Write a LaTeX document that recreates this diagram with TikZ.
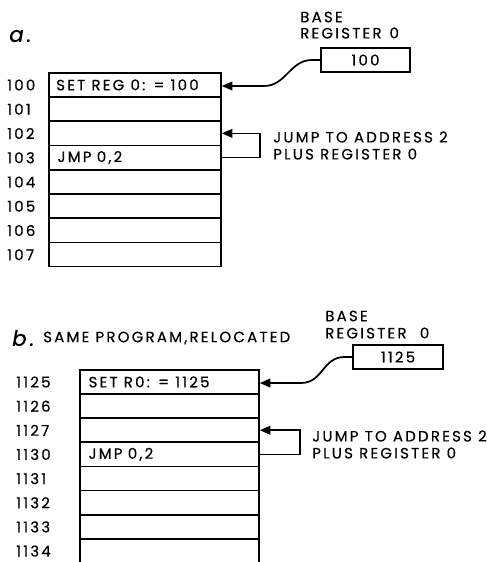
\documentclass[tikz,border=0pt]{standalone}
\usepackage{fontspec}
\setmainfont{Poppins}[LetterSpace=15,FakeBold=0.5]
\usetikzlibrary{arrows.meta}
\begin{document}
\begin{tikzpicture}[x=0.75pt,y=-0.75pt,
  every node/.style={font=\fontsize{11.2}{13}\selectfont, inner sep=0pt},
  rowa/.style={draw, line width=1.3pt, minimum width=129pt, minimum height=18pt, anchor=north west},
  rowb/.style={draw, line width=1.3pt, minimum width=134.25pt, minimum height=18.1pt, anchor=north west},
  reg/.style={draw, line width=1.3pt, minimum width=67pt, minimum height=18pt},
  lbl/.style={anchor=west},
  txt/.style={anchor=west},
  arr/.style={line width=1.3pt, -{Triangle[length=8pt,width=6.5pt]}},
  part/.style={anchor=west, font=\fontsize{16}{17}\selectfont\itshape}
]
\useasboundingbox (0,0) rectangle (499,562);
% ---------- part a ----------
\node[part] (pa) at (9,36) {a.};
\node[lbl] (basea1) at (300,17) {BASE};
\node[lbl] (basea2) at (300,33) {REGISTER\hspace{6pt}0};
\node[reg] (ra) at (365.5,60) {100};
\foreach \i/\addr in {0/100,1/101,2/102,3/103,4/104,5/105,6/106,7/107}{
  \node[rowa] (a\i) at (48,{72+24.25*\i}) {};
  \node[lbl] (al\i) at (7,{85+24.25*\i}) {\addr};
}
\node[txt] (at0) at ([xshift=6pt]a0.west) {SET REG 0: = 100};
\node[txt] (at3) at ([xshift=7pt]a3.west) {JMP\hspace{4pt}0,2};
\coordinate (ca) at (264,86);
\draw[arr] (ra.west) -- ++(-8,0) .. controls +(-22,0) and +(22,0) .. (ca) -- (ca -| a0.east);
\draw[arr] (a3.east) -- ++(38,0) |- (a2.east);
\node[lbl] (ja1) at (273,137) {JUMP TO ADDRESS 2};
\node[lbl] (ja2) at (273,154) {PLUS REGISTER 0};
% ---------- part b ----------
\node[part] (pb) at (12,338) {b.};
\node[lbl] (sp) at (43,338) {SAME PROGRAM,RELOCATED};
\node[lbl] (baseb1) at (325,316) {BASE};
\node[lbl] (baseb2) at (325,333) {REGISTER\hspace{10pt}0};
\node[reg] (rb) at (398,357) {1125};
\begin{scope}
\clip (0,0) rectangle (499,562);
\foreach \i/\addr in {0/1125,1/1126,2/1127,3/1130,4/1131,5/1132,6/1133,7/1134}{
  \node[rowb] (b\i) at (79,{369+24.15*\i}) {};
  \node[lbl] (bl\i) at (16,{382+24.15*\i}) {\addr};
}
\end{scope}
\node[txt] (bt0) at ([xshift=7pt]b0.west) {SET R0: = 1125};
\node[txt] (bt3) at ([xshift=7pt]b3.west) {JMP\hspace{4pt}0,2};
\coordinate (cb) at (301,383);
\draw[arr] (rb.west) -- ++(-8,0) .. controls +(-22,0) and +(22,0) .. (cb) -- (cb -| b0.east);
\draw[arr] (b3.east) -- ++(40,0) |- (b2.east);
\node[lbl] (jb1) at (312,436) {JUMP TO ADDRESS 2};
\node[lbl] (jb2) at (312,453) {PLUS REGISTER 0};
\end{tikzpicture}
\end{document}
